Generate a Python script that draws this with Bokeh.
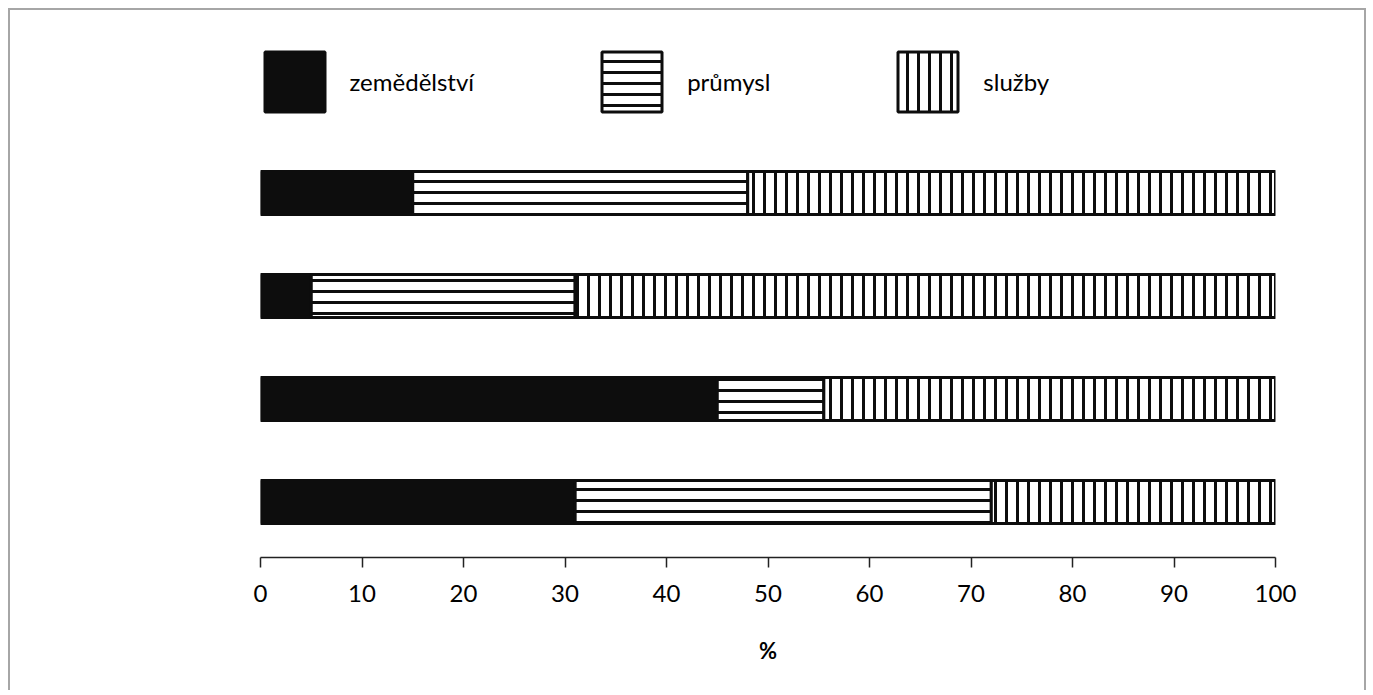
from bokeh.plotting import figure
from bokeh.models import ColumnDataSource, Range1d, Legend, LegendItem, FixedTicker
from bokeh.embed import file_html
from bokeh.resources import INLINE

# data (top row first), shares in %
sectors = ["zemědělství", "průmysl", "služby"]
zemedelstvi = [15, 5, 45, 31]
prumysl = [33, 26, 10.5, 41]
sluzby = [52, 69, 44.5, 28]
x_ticks = [0, 10, 20, 30, 40, 50, 60, 70, 80, 90, 100]

n = len(zemedelstvi)
ypos = [n - i for i in range(n)]
z_end = [a for a in zemedelstvi]
p_end = [a + b for a, b in zip(zemedelstvi, prumysl)]
s_end = [a + b + c for a, b, c in zip(zemedelstvi, prumysl, sluzby)]
src = ColumnDataSource(dict(y=ypos, z0=[0] * n, z1=z_end, p1=p_end, s1=s_end))

FONT = "Lato"
INK = "#0d0d0d"

p = figure(width=1358, height=682, output_backend="svg", toolbar_location=None,
           x_range=Range1d(0, 100), y_range=Range1d(0.461, 5.51),
           min_border_left=250, min_border_right=93, min_border_top=27, min_border_bottom=135)
p.styles = {"border": "2px solid #a6a6a6", "border-bottom": "none",
            "margin-left": "8px", "margin-top": "8px"}

H = 0.417
r1 = p.hbar(y="y", left="z0", right="z1", height=H, source=src,
            fill_color=INK, line_color=INK, line_width=3)
r2 = p.hbar(y="y", left="z1", right="p1", height=H, source=src,
            fill_color="white", line_color=INK, line_width=3,
            hatch_pattern="horizontal_line", hatch_scale=11, hatch_weight=3, hatch_color=INK)
r3 = p.hbar(y="y", left="p1", right="s1", height=H, source=src,
            fill_color="white", line_color=INK, line_width=3,
            hatch_pattern="vertical_line", hatch_scale=11, hatch_weight=3, hatch_color=INK)

legend = Legend(items=[LegendItem(label=sectors[0], renderers=[r1]),
                       LegendItem(label=sectors[1], renderers=[r2]),
                       LegendItem(label=sectors[2], renderers=[r3])],
                orientation="horizontal", location=(-3.5, 438.5),
                glyph_width=75, glyph_height=75, label_standoff=18, spacing=120,
                padding=0, margin=0, border_line_color=None, background_fill_alpha=0,
                label_text_font=FONT, label_text_font_size="24px", label_text_color="#000")
p.add_layout(legend)

p.yaxis.visible = False
p.grid.visible = False
p.outline_line_color = None

ax = p.xaxis[0]
ax.ticker = FixedTicker(ticks=x_ticks)
ax.minor_tick_line_color = None
ax.major_tick_in = 0
ax.major_tick_out = 10
ax.major_tick_line_color = "#222"
ax.major_tick_line_width = 1.5
ax.axis_line_color = "#222"
ax.axis_line_width = 1.5
ax.major_label_text_font = FONT
ax.major_label_text_font_size = "24px"
ax.major_label_text_color = "#000"
ax.major_label_standoff = 17
ax.axis_label = "%"
ax.axis_label_text_font = FONT
ax.axis_label_text_font_style = "bold"
ax.axis_label_text_font_size = "22px"
ax.axis_label_text_color = "#000"
ax.axis_label_standoff = 32

open("out.html", "w").write(file_html(p, INLINE))
